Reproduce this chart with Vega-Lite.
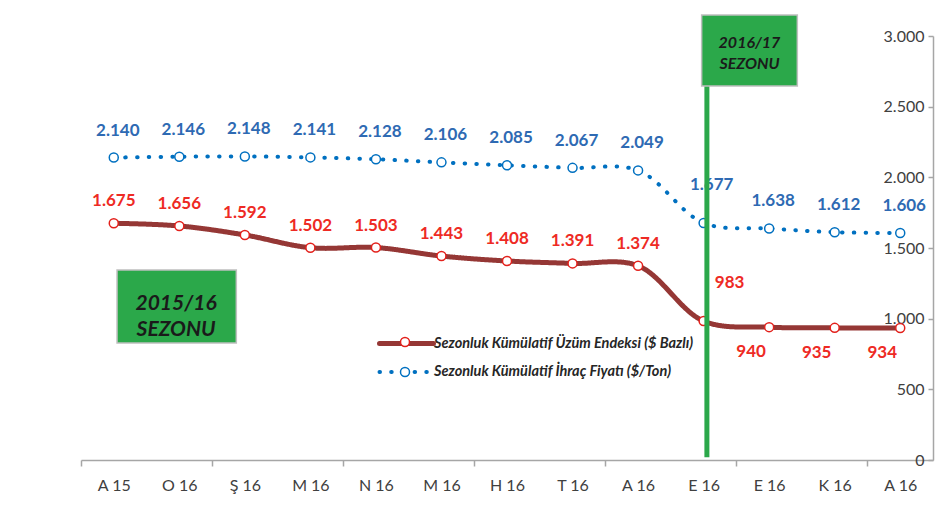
{
  "$schema": "https://vega.github.io/schema/vega-lite/v6.json",
  "width": 852,
  "height": 424,
  "autosize": {"type": "none"},
  "padding": {"left": 81, "top": 36, "right": 15, "bottom": 49},
  "background": "white",
  "config": {
    "view": {"stroke": null},
    "font": "Lato",
    "locale": {"number": {"decimal": ",", "thousands": ".", "grouping": [3], "currency": ["", " TL"]}}
  },
  "data": {
    "values": [
      {"i": 0, "endeks": 1675, "fiyat": 2140},
      {"i": 1, "endeks": 1656, "fiyat": 2146},
      {"i": 2, "endeks": 1592, "fiyat": 2148},
      {"i": 3, "endeks": 1502, "fiyat": 2141},
      {"i": 4, "endeks": 1503, "fiyat": 2128},
      {"i": 5, "endeks": 1443, "fiyat": 2106},
      {"i": 6, "endeks": 1408, "fiyat": 2085},
      {"i": 7, "endeks": 1391, "fiyat": 2067},
      {"i": 8, "endeks": 1374, "fiyat": 2049},
      {"i": 9, "endeks": 983, "fiyat": 1677},
      {"i": 10, "endeks": 940, "fiyat": 1638},
      {"i": 11, "endeks": 935, "fiyat": 1612},
      {"i": 12, "endeks": 934, "fiyat": 1606}
    ]
  },
  "transform": [{"fold": ["endeks", "fiyat"], "as": ["key", "value"]}],
  "encoding": {
    "x": {"field": "i", "type": "quantitative", "axis": null, "scale": {"domain": [-0.5, 12.5], "nice": false, "zero": false}},
    "y": {"field": "value", "type": "quantitative", "axis": null, "scale": {"domain": [0, 3000], "nice": false}}
  },
  "layer": [
    {
      "mark": {"type": "line", "interpolate": "catmull-rom", "strokeCap": "round"},
      "encoding": {
        "x": {
          "field": "i", "type": "quantitative",
          "axis": {
            "values": [-0.5, 1.5, 3.5, 5.5, 7.5, 9.5, 11.5],
            "labels": false, "grid": false, "title": null, "orient": "bottom",
            "domainColor": "#A6A6A6", "domainWidth": 1.5,
            "tickColor": "#A6A6A6", "tickWidth": 1.5, "tickSize": 6
          }
        },
        "y": {
          "field": "value", "type": "quantitative",
          "axis": {
            "orient": "left", "offset": -852,
            "values": [0, 500, 1000, 1500, 2000, 2500, 3000],
            "labelExpr": "format(datum.value, ',')", "grid": false, "title": null,
            "domainColor": "#A6A6A6", "domainWidth": 1.5,
            "tickColor": "#A6A6A6", "tickWidth": 1.5, "tickSize": 5,
            "labelPadding": 4, "labelFont": "Lato", "labelFontSize": 16, "labelColor": "#404040"
          }
        },
        "color": {
          "field": "key", "type": "nominal",
          "scale": {"range": ["#953735", "#0070C0"]},
          "legend": {
            "orient": "none", "legendX": 314, "legendY": 296, "title": null, "padding": 0,
            "symbolType": "M-3,0H3", "symbolSize": 324, "rowPadding": 7, "labelOffset": 16, "labelLimit": 0,
            "labelFont": "Lato", "labelFontSize": 14.5, "labelFontStyle": "italic", "labelFontWeight": "bold", "labelColor": "#262626",
            "labelExpr": "datum.value == 'endeks' ? 'Sezonluk Kümülatif Üzüm Endeksi ($ Bazlı)' : 'Sezonluk Kümülatif İhraç Fiyatı ($/Ton)'",
            "encode": {"symbols": {"update": {"strokeCap": {"value": "round"}}}}
          }
        },
        "strokeDash": {
          "field": "key", "type": "nominal",
          "scale": {"range": [[1, 0], [0.5, 11.2]]},
          "legend": {"orient": "none", "legendX": 314, "legendY": 296, "title": null}
        },
        "strokeWidth": {
          "field": "key", "type": "nominal",
          "scale": {"range": [5, 4]},
          "legend": {"orient": "none", "legendX": 314, "legendY": 296, "title": null}
        }
      }
    },
    {
      "mark": {"type": "point", "fill": "white", "strokeWidth": 1.5, "opacity": 1, "size": 324},
      "encoding": {
        "x": {
          "field": "i", "type": "quantitative",
          "axis": {
            "values": [0, 1, 2, 3, 4, 5, 6, 7, 8, 9, 10, 11, 12],
            "labelExpr": "['A 15','O 16','Ş 16','M 16','N 16','M 16','H 16','T 16','A 16','E 16','E 16','K 16','A 16'][datum.value]",
            "ticks": false, "domain": false, "grid": false, "title": null, "orient": "bottom",
            "labelPadding": 17, "labelFont": "Lato", "labelFontSize": 16, "labelColor": "#404040", "labelFlush": false
          }
        },
        "shape": {
          "field": "key", "type": "nominal",
          "scale": {"domain": ["endeks", "fiyat"], "range": ["M-0.5,0A0.5,0.5,0,1,0,0.5,0A0.5,0.5,0,1,0,-0.5,0Z", "M-0.5,0A0.5,0.5,0,1,0,0.5,0A0.5,0.5,0,1,0,-0.5,0Z"]},
          "legend": {
            "orient": "none", "legendX": 314, "legendY": 296, "title": null, "padding": 0, "zindex": 2,
            "symbolSize": 324, "rowPadding": 12, "labelOffset": 16, "labelLimit": 0, "symbolFillColor": "white",
            "labelFont": "Lato", "labelFontSize": 14.5, "labelColor": "transparent",
            "labelExpr": "''",
            "encode": {"symbols": {"update": {"fill": {"value": "white"}, "strokeWidth": {"value": 1.5}}}}
          }
        },
        "stroke": {
          "field": "key", "type": "nominal",
          "scale": {"domain": ["endeks", "fiyat"], "range": ["#E3201B", "#0070C0"]},
          "legend": {"orient": "none", "legendX": 314, "legendY": 296, "title": null}
        }
      }
    },
    {
      "transform": [{"filter": "datum.key == 'endeks' && datum.i <= 8"}],
      "mark": {"type": "text", "dy": -22, "fontSize": 17, "fontWeight": "bold", "color": "#EE2A24"},
      "encoding": {"text": {"field": "value", "type": "quantitative", "format": ","}}
    },
    {
      "transform": [{"filter": "datum.key == 'endeks' && datum.i == 9"}],
      "mark": {"type": "text", "dx": 26, "dy": -38, "fontSize": 17, "fontWeight": "bold", "color": "#EE2A24"},
      "encoding": {"text": {"field": "value", "type": "quantitative", "format": ","}}
    },
    {
      "transform": [{"filter": "datum.key == 'endeks' && datum.i >= 10"}],
      "mark": {"type": "text", "dx": -18, "dy": 25, "fontSize": 17, "fontWeight": "bold", "color": "#EE2A24"},
      "encoding": {"text": {"field": "value", "type": "quantitative", "format": ","}}
    },
    {
      "transform": [{"filter": "datum.key == 'fiyat' && datum.i != 9"}],
      "mark": {"type": "text", "dx": 4, "dy": -27, "fontSize": 17, "fontWeight": "bold", "color": "#2E6AB3"},
      "encoding": {"text": {"field": "value", "type": "quantitative", "format": ","}}
    },
    {
      "transform": [{"filter": "datum.key == 'fiyat' && datum.i == 9"}],
      "mark": {"type": "text", "dx": 8, "dy": -38, "fontSize": 17, "fontWeight": "bold", "color": "#2E6AB3"},
      "encoding": {"text": {"field": "value", "type": "quantitative", "format": ","}}
    },
    {
      "transform": [{"filter": "datum.key == 'endeks' && datum.i == 0"}],
      "mark": {"type": "rule", "color": "#2BA84A", "strokeWidth": 5},
      "encoding": {"x": {"datum": 9.05, "axis": null}, "y": {"datum": 20, "axis": null}, "y2": {"datum": 2650}}
    },
    {
      "transform": [{"filter": "datum.key == 'endeks' && datum.i == 0"}],
      "mark": {"type": "rect", "fill": "#2BA84A", "stroke": "#BFBFBF", "strokeWidth": 1.5, "clip": false},
      "encoding": {"x": {"datum": 8.97, "axis": null}, "x2": {"datum": 10.43}, "y": {"datum": 2647, "axis": null}, "y2": {"datum": 3149}}
    },
    {
      "transform": [{"filter": "datum.key == 'endeks' && datum.i == 0"}],
      "mark": {"type": "text", "text": ["2016/17", "SEZONU"], "fontSize": 16, "fontWeight": "bold", "fontStyle": "italic", "color": "#1A1A1A", "lineHeight": 21, "baseline": "middle"},
      "encoding": {"x": {"datum": 9.7, "axis": null}, "y": {"datum": 2947, "axis": null}}
    },
    {
      "transform": [{"filter": "datum.key == 'endeks' && datum.i == 0"}],
      "mark": {"type": "rect", "fill": "#2BA84A", "stroke": "#BFBFBF", "strokeWidth": 1.5},
      "encoding": {"x": {"datum": 0.05, "axis": null}, "x2": {"datum": 1.87}, "y": {"datum": 828, "axis": null}, "y2": {"datum": 1344}}
    },
    {
      "transform": [{"filter": "datum.key == 'endeks' && datum.i == 0"}],
      "mark": {"type": "text", "text": ["2015/16", "SEZONU"], "fontSize": 21, "fontWeight": "bold", "fontStyle": "italic", "color": "#1A1A1A", "lineHeight": 26, "baseline": "middle"},
      "encoding": {"x": {"datum": 0.95, "axis": null}, "y": {"datum": 1104, "axis": null}}
    }
  ],
  "resolve": {"axis": {"x": "independent", "y": "independent"}}
}
